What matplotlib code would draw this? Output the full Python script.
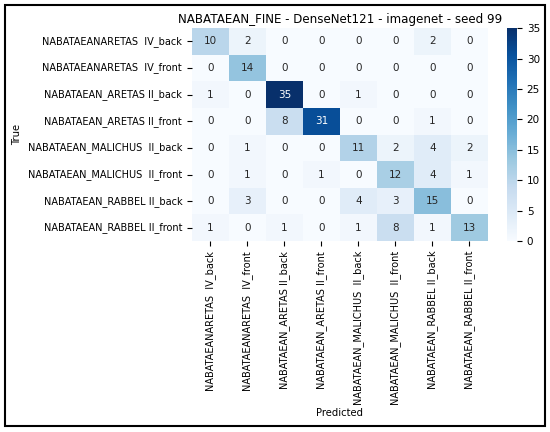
import matplotlib
matplotlib.use("Agg")
import matplotlib.pyplot as plt
import seaborn as sns
import numpy as np
from matplotlib.patches import Rectangle

labels = [
    "NABATAEANARETAS  IV_back",
    "NABATAEANARETAS  IV_front",
    "NABATAEAN_ARETAS II_back",
    "NABATAEAN_ARETAS II_front",
    "NABATAEAN_MALICHUS  II_back",
    "NABATAEAN_MALICHUS  II_front",
    "NABATAEAN_RABBEL II_back",
    "NABATAEAN_RABBEL II_front",
]
row_0 = [10, 2, 0, 0, 0, 0, 2, 0]
row_1 = [0, 14, 0, 0, 0, 0, 0, 0]
row_2 = [1, 0, 35, 0, 1, 0, 0, 0]
row_3 = [0, 0, 8, 31, 0, 0, 1, 0]
row_4 = [0, 1, 0, 0, 11, 2, 4, 2]
row_5 = [0, 1, 0, 1, 0, 12, 4, 1]
row_6 = [0, 3, 0, 0, 4, 3, 15, 0]
row_7 = [1, 0, 1, 0, 1, 8, 1, 13]
cm = np.array([row_0, row_1, row_2, row_3, row_4, row_5, row_6, row_7])

fig = plt.figure(figsize=(5.5, 4.32), dpi=100)
ax = fig.add_axes([0.349, 0.442, 0.538, 0.493])
cax = fig.add_axes([0.922, 0.442, 0.018, 0.493])
sns.heatmap(cm, annot=True, fmt="d", cmap="Blues", ax=ax, cbar_ax=cax,
            xticklabels=labels, yticklabels=labels, annot_kws={"fontsize": 7.5})
ax.set_title("NABATAEAN_FINE - DenseNet121 - imagenet - seed 99", fontsize=8.6, pad=4)
ax.set_xlabel("Predicted", fontsize=7.2, labelpad=2)
ax.set_ylabel("True", fontsize=7.2)
ax.tick_params(axis="both", labelsize=7)
plt.setp(ax.get_xticklabels(), rotation=90)
plt.setp(ax.get_yticklabels(), rotation=0)
cax.tick_params(labelsize=7.5)
fig.patches.append(Rectangle((0.009, 0.014), 0.982, 0.974, transform=fig.transFigure,
                             fill=False, edgecolor="black", linewidth=1.5))
fig.savefig("out.png", dpi=100)
